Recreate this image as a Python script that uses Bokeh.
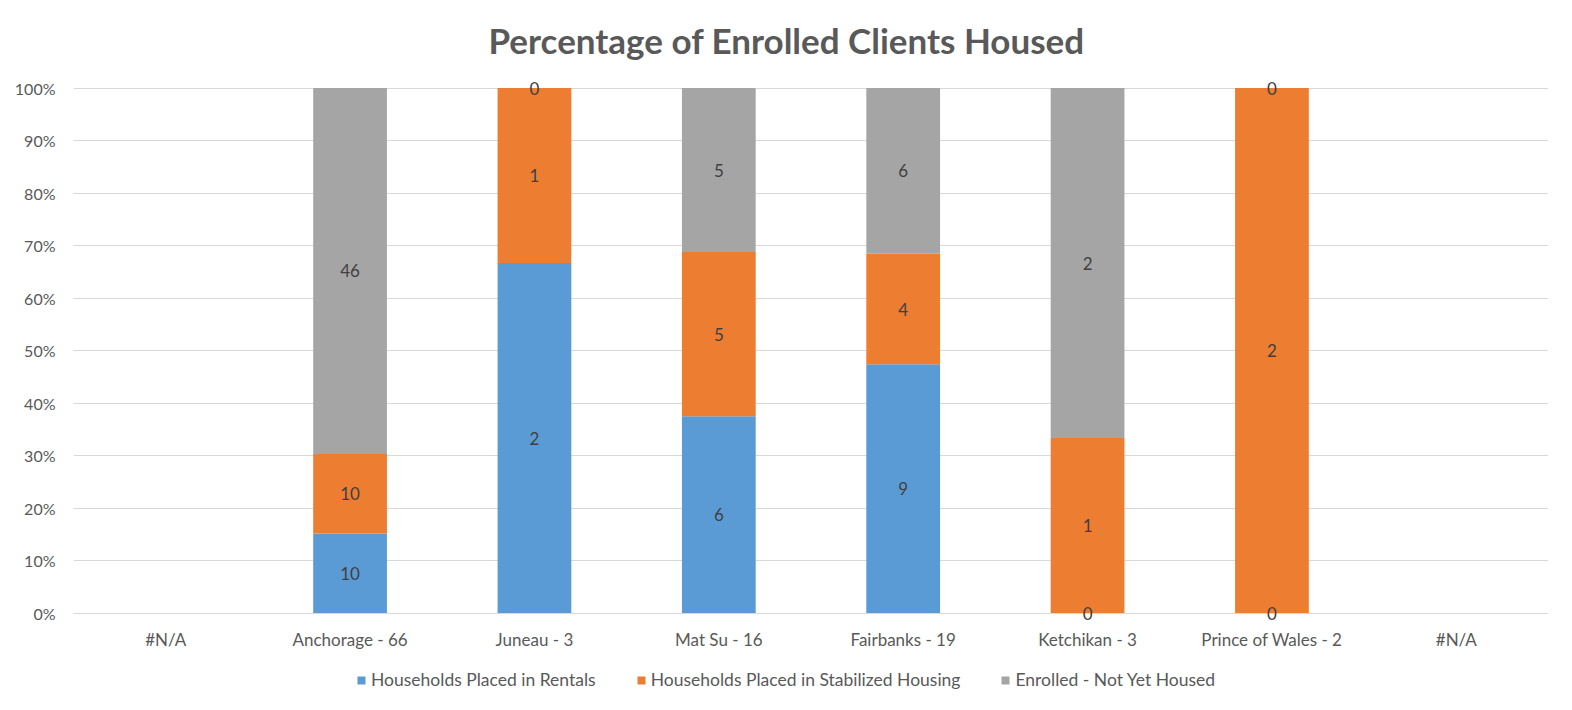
from bokeh.plotting import figure
from bokeh.layouts import column
from bokeh.models import (ColumnDataSource, FixedTicker, NumeralTickFormatter, Range1d,
                          Legend, LegendItem)
from bokeh.core.properties import value
from bokeh.embed import file_html
from bokeh.resources import INLINE

categories = ["#N/A", "Anchorage - 66", "Juneau - 3", "Mat Su - 16", "Fairbanks - 19",
              "Ketchikan - 3", "Prince of Wales - 2", "#N/A"]
rentals = [0, 10, 2, 6, 9, 0, 0, 0]
stabilized = [0, 10, 1, 5, 4, 1, 2, 0]
not_housed = [0, 46, 0, 5, 6, 2, 0, 0]
has_data = [False, True, True, True, True, True, True, False]
series_names = ["Households Placed in Rentals", "Households Placed in Stabilized Housing",
                "Enrolled - Not Yet Housed"]
colors = ["#5B9BD5", "#ED7D31", "#A5A5A5"]
y_ticks = [0, 0.1, 0.2, 0.3, 0.4, 0.5, 0.6, 0.7, 0.8, 0.9, 1.0]

FONT = "Lato"
series = [rentals, stabilized, not_housed]
xs = list(range(len(categories)))

p = figure(frame_width=1475, frame_height=546, output_backend="svg", toolbar_location=None,
           x_range=Range1d(-0.5, 7.5), y_range=Range1d(-0.02, 1.02),
           min_border_left=73, min_border_right=8, min_border_top=76, min_border_bottom=30)
p.outline_line_color = None
p.background_fill_color = "white"

p.title.text = "Percentage of Enrolled Clients Housed"
p.title.align = "left"
p.title.offset = 415
p.title.text_font = FONT
p.title.text_font_size = "35px"
p.title.text_font_style = "bold"
p.title.text_color = "#595959"
p.title.standoff = 33

# stacking
bottoms = [0.0] * len(xs)
lab_x, lab_y, lab_t = [], [], []
for vals, name, col in zip(series, series_names, colors):
    tops = []
    for i in xs:
        tot = rentals[i] + stabilized[i] + not_housed[i]
        frac = vals[i] / tot if tot else 0.0
        tops.append(bottoms[i] + frac)
        if has_data[i]:
            lab_x.append(i)
            lab_y.append((bottoms[i] + tops[i]) / 2)
            lab_t.append(str(vals[i]))
    src = ColumnDataSource(dict(x=xs, bottom=list(bottoms), top=tops))
    p.vbar(x="x", bottom="bottom", top="top", width=0.4, source=src,
           fill_color=col, line_color=None)
    bottoms = tops

lsrc = ColumnDataSource(dict(x=lab_x, y=lab_y, t=lab_t))
p.text(x="x", y="y", text="t", source=lsrc, text_align="center", text_baseline="middle",
       text_font=value(FONT), text_font_size="17px", text_color="#404040")

# axes
p.xaxis.ticker = FixedTicker(ticks=xs)
p.xaxis.major_label_overrides = {i: c for i, c in enumerate(categories)}
p.xaxis.axis_line_color = None
p.xaxis.major_tick_line_color = None
p.xaxis.minor_tick_line_color = None
p.xaxis.major_tick_out = 0
p.xaxis.major_tick_in = 0
p.xaxis.minor_tick_out = 0
p.xaxis.major_label_text_font = FONT
p.xaxis.major_label_text_font_size = "17px"
p.xaxis.major_label_text_color = "#595959"
p.xaxis.major_label_standoff = 5
p.xgrid.grid_line_color = None

p.yaxis.ticker = FixedTicker(ticks=y_ticks)
p.yaxis.formatter = NumeralTickFormatter(format="0%")
p.yaxis.axis_line_color = None
p.yaxis.major_tick_line_color = None
p.yaxis.minor_tick_line_color = None
p.yaxis.major_tick_out = 0
p.yaxis.major_tick_in = 0
p.yaxis.major_label_text_font = FONT
p.yaxis.major_label_text_font_size = "16px"
p.yaxis.major_label_text_color = "#595959"
p.yaxis.major_label_standoff = 18
p.ygrid.ticker = FixedTicker(ticks=y_ticks)
p.ygrid.grid_line_color = "#D9D9D9"
p.ygrid.grid_line_width = 1.2
p.ygrid.level = "underlay"

# legend strip below the chart (swatch renderers sit outside the visible range)
lg = figure(frame_width=1556, frame_height=50, output_backend="svg", toolbar_location=None,
            x_range=Range1d(0, 1), y_range=Range1d(0, 1), x_axis_type=None, y_axis_type=None,
            min_border_left=0, min_border_right=0, min_border_top=0, min_border_bottom=0)
lg.outline_line_color = None
lg.grid.visible = False
lrs = [lg.vbar(x=[-10], top=[-10], width=0.1, fill_color=c, line_color=None) for c in colors]
legend = Legend(items=[LegendItem(label=n, renderers=[r]) for n, r in zip(series_names, lrs)],
                orientation="horizontal", location=(356, 13),
                border_line_color=None, background_fill_alpha=0,
                glyph_width=10, glyph_height=10, label_standoff=5, spacing=40,
                label_text_font=FONT, label_text_font_size="17.5px", label_text_color="#595959",
                margin=0, padding=0)
lg.add_layout(legend, "center")

layout = column(p, lg, spacing=0)
open("out.html", "w").write(file_html(layout, INLINE))
